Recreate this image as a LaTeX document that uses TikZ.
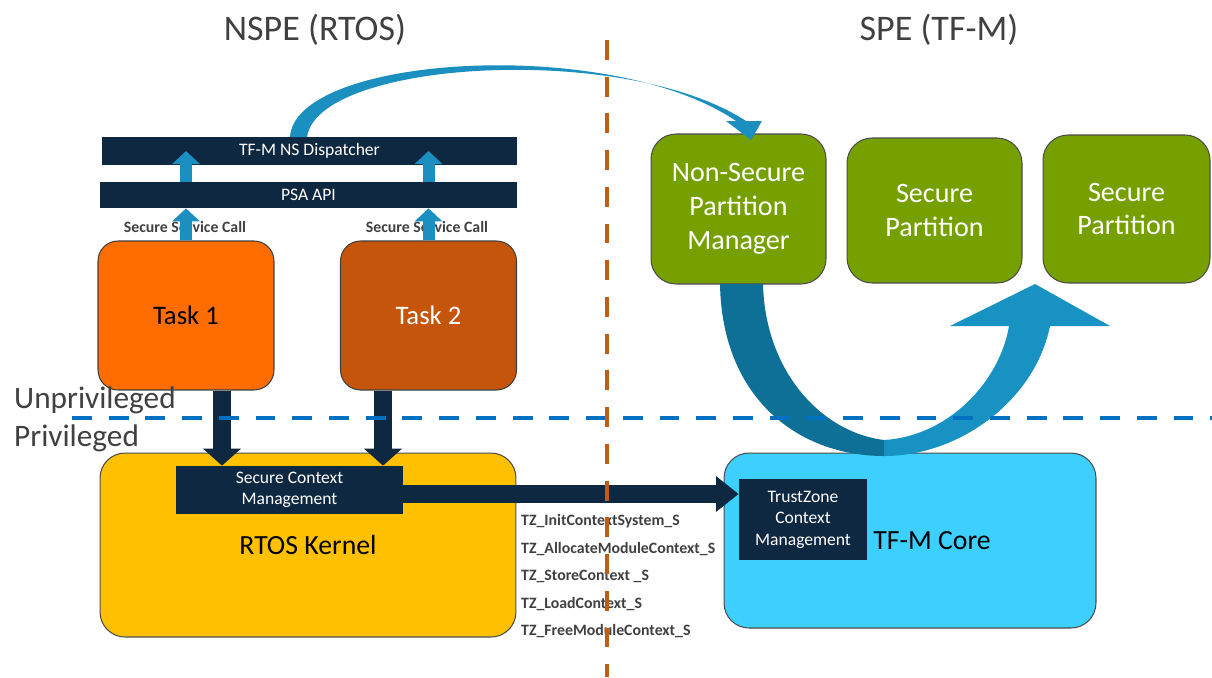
\documentclass[tikz,border=0pt]{standalone}
\usepackage{fontspec}
\setmainfont{Carlito}
\usetikzlibrary{arrows.meta}
\definecolor{navybox}{RGB}{14,40,65}
\definecolor{callblue}{RGB}{27,143,192}
\definecolor{taskorange}{RGB}{255,108,0}
\definecolor{taskbrown}{RGB}{197,85,10}
\definecolor{kernelyellow}{RGB}{255,192,0}
\definecolor{partgreen}{RGB}{118,160,0}
\definecolor{corecyan}{RGB}{61,208,255}
\definecolor{splitorange}{RGB}{197,90,17}
\definecolor{privblue}{RGB}{0,112,192}
\definecolor{udark}{RGB}{14,112,150}
\definecolor{ulight}{RGB}{24,146,195}
\definecolor{notegray}{RGB}{64,64,64}
\tikzset{ navybar/.style = { rectangle % dark strip
        , fill = navybox
        , text = white
        , align = center
        , inner sep = 0pt
        , font = \fontsize{10pt}{12.2pt}\selectfont
        }
        , taskbox/.style = { rectangle % rtos task
        , rounded corners = 0.4cm
        , draw = black!75
        , line width = 0.6pt
        , minimum width = 3.52cm
        , minimum height = 2.98cm
        , font = \fontsize{15.2pt}{18pt}\selectfont
        }
        , partbox/.style = { rectangle % tf-m partition
        , rounded corners = 0.5cm
        , draw = black!70
        , line width = 0.6pt
        , fill = partgreen
        , text = white
        , align = center
        , minimum width = 3.5cm
        , minimum height = 3.0cm
        , font = \fontsize{16pt}{19.2pt}\selectfont
        }
        , bigbox/.style = { rectangle % kernel and core
        , rounded corners = 0.5cm
        , draw = black!70
        , line width = 0.6pt
        , font = \fontsize{15.8pt}{19pt}\selectfont
        }
        }

\begin{document}
\begin{tikzpicture}[x=0.02cm, y=-0.02cm,
        title/.style={font=\fontsize{20.5pt}{24pt}\selectfont, text=notegray},
        privnote/.style={anchor=west, font=\fontsize{17.8pt}{21pt}\selectfont, text=notegray},
        callnote/.style={font=\bfseries\fontsize{9pt}{11pt}\selectfont, text=notegray},
        apinote/.style={anchor=west, font=\bfseries\fontsize{9pt}{11pt}\selectfont, text=notegray},
        callarrow/.style={draw=callblue, line width=0.24cm, -{Triangle[length=0.26cm, width=0.54cm]}},
        downarrow/.style={draw=navybox, line width=0.36cm, -{Triangle[length=0.34cm, width=0.74cm]}},
        ctxarrow/.style={draw=navybox, line width=0.36cm, -{Triangle[length=0.45cm, width=0.68cm]}},
        splitline/.style={draw=splitorange, line width=2.3pt, dash pattern=on 11.3pt off 9.6pt},
        privline/.style={draw=privblue, line width=2.3pt, dash pattern=on 11.3pt off 9.6pt}]
        \useasboundingbox (0,0) rectangle (1212,677);

        \node [title] (nspe) at (315,30) {NSPE (RTOS)};
        \node [title] (spe) at (939,30) {SPE (TF-M)};

        \node [navybar, minimum width=8.3cm, minimum height=0.56cm] (dispatcher) at (309.5,151) {TF-M NS Dispatcher};
        \node [navybar, minimum width=8.34cm, minimum height=0.52cm] (psa) at (308.5,195) {PSA API};
        \node [callnote] (call1) at (185,227) {Secure Service Call};
        \node [callnote] (call2) at (427,227) {Secure Service Call};

        \node [taskbox, fill=taskorange, text=black] (task1) at (186,315.5) {Task 1};
        \node [taskbox, fill=taskbrown, text=white] (task2) at (428.5,315.5) {Task 2};

        \node [privnote] (unpriv) at (8,400) {Unprivileged};
        \node [privnote] (priv) at (8,438) {Privileged};

        \node [bigbox, fill=kernelyellow, minimum width=8.32cm, minimum height=3.68cm] (kernel) at (308,545) {RTOS Kernel};
        \node [navybar, minimum width=4.54cm, minimum height=0.96cm] (scm) at (289.5,490) {Secure Context\\Management};

        \node [bigbox, fill=corecyan, minimum width=7.44cm, minimum height=3.5cm] (core) at (910,540.5) {};
        \node [font=\fontsize{15.8pt}{19pt}\selectfont] (coretext) at (932,541) {TF-M Core};
        \node [navybar, minimum width=2.56cm, minimum height=1.62cm] (tz) at (803,519.5) {TrustZone\\Context\\Management};

        \node [partbox] (nspm) at (738.5,209) {Non-Secure\\Partition\\Manager};
        \node [partbox, minimum height=2.9cm] (sp1) at (934.5,210.5) {Secure\\Partition};
        \node [partbox, minimum width=3.34cm, minimum height=2.96cm] (sp2) at (1126.5,209) {Secure\\Partition};

        \node [apinote] (tzinit) at (515,521) {TZ\_InitContextSystem\_S};
        \node [apinote] (tzalloc) at (515,549) {TZ\_AllocateModuleContext\_S};
        \node [apinote] (tzstore) at (515,576) {TZ\_StoreContext \_S};
        \node [apinote] (tzload) at (515,604) {TZ\_LoadContext\_S};
        \node [apinote] (tzfree) at (515,631) {TZ\_FreeModuleContext\_S};

        \draw [callarrow] (task1.north) -- (task1.north |- psa.south);
        \draw [callarrow] (task1 |- psa.north) -- (task1 |- dispatcher.center);
        \draw [callarrow] (task2.north) -- (task2.north |- psa.south);
        \draw [callarrow] (task2 |- psa.north) -- (task2 |- dispatcher.center);

        \draw [downarrow] ([xshift=0.72cm]task1.south) -- ([xshift=0.72cm]task1.south |- scm.north);
        \draw [downarrow] ([xshift=-0.91cm]task2.south) -- ([xshift=-0.91cm]task2.south |- scm.north);
        \draw [ctxarrow] ([yshift=-0.08cm]scm.east) -- ([yshift=-0.08cm]scm.east -| tz.west);

        % dispatcher to partition manager
        \fill [callblue] (290,137) .. controls (295,55) and (610,35) .. (736,121) -- (726,121) -- (751,140)
            -- (762,121) -- (746,121) .. controls (625,42) and (318,60) .. (307,137) -- cycle;

        % round trip through the core
        \fill [udark] (720,284) .. controls (722,400) and (800,456) .. (884,456) -- (884,440)
            .. controls (820,432) and (765,370) .. (763,284) -- cycle;
        \fill [ulight] (884,456) .. controls (960,456) and (1035,400) .. (1050,326) -- (1110,326) -- (1035,284)
            -- (950,326) -- (1009,326) .. controls (1000,380) and (950,436) .. (884,440) -- cycle;

        \draw [privline] (72,418) -- (1212,418);
        \draw [splitline] (607,40) -- (607,677);
\end{tikzpicture}
\end{document}
